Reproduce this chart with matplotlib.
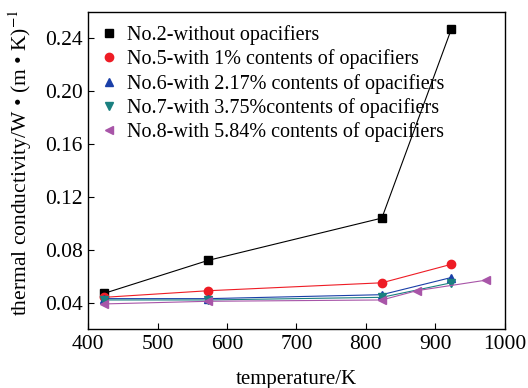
import numpy as np
import matplotlib
matplotlib.use('Agg')
import matplotlib.pyplot as plt

plt.rcParams['font.family'] = ['Liberation Serif', 'DejaVu Serif']
plt.rcParams['mathtext.fontset'] = 'stix'

# temperatures (K)
t_main = [423, 573, 823, 923]
t_no8 = [423, 573, 823, 873, 973]

# thermal conductivity W/(m*K)
no2 = [0.047, 0.072, 0.104, 0.247]
no5 = [0.044, 0.049, 0.055, 0.069]
no6 = [0.043, 0.043, 0.046, 0.059]
no7 = [0.042, 0.042, 0.044, 0.055]
no8 = [0.039, 0.041, 0.042, 0.049, 0.057]

labels = ['No.2-without opacifiers',
          'No.5-with 1% contents of opacifiers',
          'No.6-with 2.17% contents of opacifiers',
          'No.7-with 3.75%contents of opacifiers',
          'No.8-with 5.84% contents of opacifiers']

fig = plt.figure(figsize=(5.28, 3.88), dpi=100)
ax = fig.add_axes([0.167, 0.152, 0.789, 0.817])

ax.plot(t_main, no2, c='black', marker='s', ms=5.5, lw=0.8, label=labels[0])
ax.plot(t_main, no5, c='#ee1c25', marker='o', ms=6, lw=0.8, label=labels[1])
ax.plot(t_main, no6, c='#1a3fa8', marker='^', ms=6, lw=0.8, label=labels[2])
ax.plot(t_main, no7, c='#1a8080', marker='v', ms=6, lw=0.8, label=labels[3])
ax.plot(t_no8, no8, c='#a855a8', marker='<', ms=6, lw=0.8, label=labels[4])

ax.set_xlim(400, 1000)
ax.set_ylim(0.02, 0.26)
ax.set_xticks(np.arange(400, 1001, 100))
ax.set_yticks([0.04, 0.08, 0.12, 0.16, 0.20, 0.24])
ax.set_yticklabels(['0.04', '0.08', '0.12', '0.16', '0.20', '0.24'])
ax.tick_params(direction='in', labelsize=15.5, length=4, width=0.8, pad=4)
for s in ax.spines.values():
    s.set_linewidth(1.0)

ax.set_xlabel('temperature/K', fontsize=15, labelpad=12)
ax.set_ylabel('thermal conductivity/W • (m • K)$^{-1}$', fontsize=15.5)
ax.yaxis.set_label_coords(-0.13, 0.525)

leg = ax.legend(loc='upper left', fontsize=14.5, frameon=False, handlelength=0.8,
                handletextpad=0.5, labelspacing=0.22, borderaxespad=0.25)
for h in leg.legend_handles:
    h.set_linestyle('none')

fig.savefig('out.png', dpi=100)
